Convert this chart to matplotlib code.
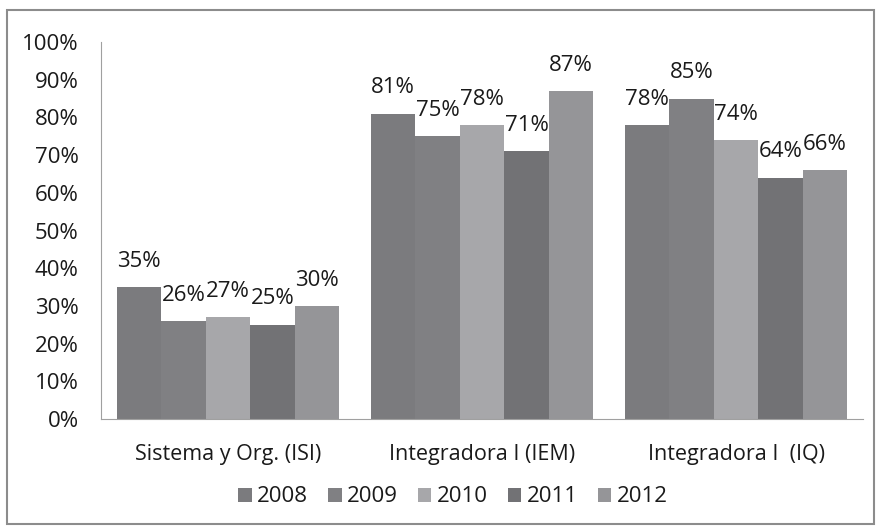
import matplotlib.pyplot as plt
import numpy as np
from matplotlib.patches import Rectangle

categories = ["Sistema y Org. (ISI)", "Integradora I (IEM)", "Integradora I  (IQ)"]
years = ["2008", "2009", "2010", "2011", "2012"]
values = {
    "2008": [35, 81, 78],
    "2009": [26, 75, 85],
    "2010": [27, 78, 74],
    "2011": [25, 71, 64],
    "2012": [30, 87, 66],
}
colors = ["#7b7b7e", "#808083", "#a7a7aa", "#727275", "#959598"]
yticks = [0, 10, 20, 30, 40, 50, 60, 70, 80, 90, 100]

plt.rcParams["font.family"] = ["Open Sans", "DejaVu Sans"]
txt = "#1a1a1a"

fig = plt.figure(figsize=(8.8, 5.32), dpi=100)
ax = fig.add_axes([0.1148, 0.2124, 0.8659, 0.7086])

x = np.arange(len(categories))
bar_w = 0.175
for i, yr in enumerate(years):
    offs = (i - 2) * bar_w
    bars = ax.bar(x + offs, values[yr], width=bar_w, color=colors[i], label=yr)
    for b, v in zip(bars, values[yr]):
        ax.annotate(f"{v}%", (b.get_x() + b.get_width() / 2, v),
                    xytext=(0, 11), textcoords="offset points",
                    ha="center", va="bottom", fontsize=16, color=txt)

ax.set_xlim(-0.5, 2.5)
ax.set_ylim(0, 100)
ax.set_yticks(yticks)
ax.set_yticklabels([f"{t}%" for t in yticks])
ax.set_xticks(x)
ax.set_xticklabels(categories)
ax.tick_params(axis="y", length=0, pad=16, labelsize=16, labelcolor=txt)
ax.tick_params(axis="x", length=0, pad=18, labelsize=15.5, labelcolor=txt)
for s in ["top", "right"]:
    ax.spines[s].set_visible(False)
ax.spines["left"].set_color("#a0a0a0")
ax.spines["bottom"].set_color("#a0a0a0")

ax.legend(loc="center", ncol=5, frameon=False, fontsize=16, handlelength=0.6,
          handleheight=0.6, handletextpad=0.25, columnspacing=0.9, labelcolor=txt)
leg = ax.get_legend()
leg.set_bbox_to_anchor((453 / 880, 1 - 497 / 532), transform=fig.transFigure)

fig.patches.append(Rectangle((7 / 880, 1 - 524 / 532), 867 / 880, 514 / 532,
                             transform=fig.transFigure, fill=False,
                             edgecolor="#8c8c8c", linewidth=1.5))

fig.savefig("out.png", dpi=100)
